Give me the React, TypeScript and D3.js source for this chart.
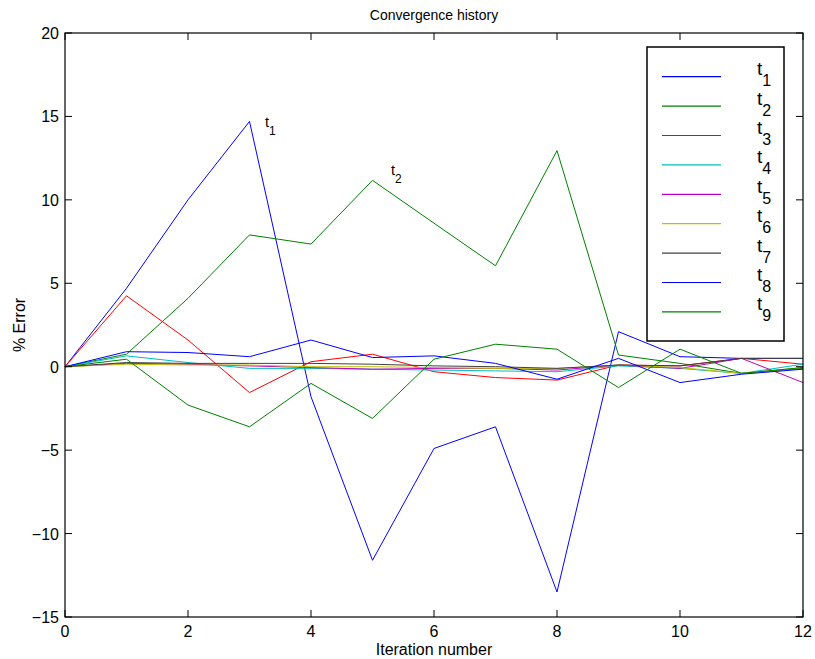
import React from "react";
import * as d3 from "d3";

// Iteration indices and per-parameter error histories (%)
const iterations = [0, 1, 2, 3, 4, 5, 6, 7, 8, 9, 10, 11, 12];
const seriesNames = ["1", "2", "3", "4", "5", "6", "7", "8", "9"];
const t1 = [0, 4.7, 10.0, 14.7, -1.8, -11.6, -4.9, -3.6, -13.5, 2.1, 0.6, 0.5, 0.5];
const t2 = [0, 0.75, 4.1, 7.9, 7.35, 11.17, 8.6, 6.05, 12.95, 0.7, 0.2, -0.4, -0.1];
const t3 = [0, 4.25, 1.6, -1.55, 0.3, 0.75, -0.3, -0.65, -0.8, 0.1, 0.05, 0.5, 0.15];
const t4 = [0, 0.65, 0.25, -0.1, -0.1, -0.15, -0.2, -0.25, -0.3, 0.05, -0.1, -0.4, 0.15];
const t5 = [0, 0.2, 0.15, 0.05, -0.05, -0.15, -0.1, -0.1, -0.2, 0.1, -0.1, 0.5, -0.95];
const t6 = [0, 0.15, 0.1, 0.1, 0.0, 0.0, -0.05, -0.1, -0.1, 0.1, -0.05, -0.4, -0.05];
const t7 = [0, 0.25, 0.2, 0.2, 0.2, 0.15, 0.05, 0.0, -0.1, 0.1, 0.05, 0.5, 0.5];
const t8 = [0, 0.9, 0.85, 0.6, 1.6, 0.55, 0.65, 0.2, -0.75, 0.5, -0.95, -0.45, -0.15];
const t9 = [0, 0.45, -2.3, -3.6, -1.0, -3.1, 0.45, 1.35, 1.05, -1.25, 1.05, -0.4, -0.05];
const seriesValues = [t1, t2, t3, t4, t5, t6, t7, t8, t9];
const seriesColors = ["#0000ff", "#008000", "#ff0000", "#00bfbf", "#bf00bf", "#bfbf00", "#404040", "#0000ff", "#008000"];

const xTicks = [0, 2, 4, 6, 8, 10, 12];
const yTicks = [-15, -10, -5, 0, 5, 10, 15, 20];

const W = 815;
const H = 659;
const plot = { left: 65, right: 803, top: 33, bottom: 617 };
const FONT = "Liberation Sans, Arial, Helvetica, sans-serif";

export default function App() {
  const x = d3.scaleLinear().domain([0, 12]).range([plot.left, plot.right]);
  const y = d3.scaleLinear().domain([-15, 20]).range([plot.bottom, plot.top]);
  const line = d3
    .line<number>()
    .x((_, i) => x(iterations[i]))
    .y((d) => y(d));

  const tickLen = 7;
  const legend = { x: 647, y: 47, w: 137, h: 294, row: 29.4, first: 76.7 };

  return (
    <svg
      width={W}
      height={H}
      style={{ position: "fixed", left: 0, top: 0, background: "#fff" }}
      fontFamily={FONT}
    >
      <rect x={0} y={0} width={W} height={H} fill="#fff" />

      {/* data lines */}
      <g fill="none" strokeWidth={1}>
        {seriesValues.map((vals, k) => (
          <path key={k} d={line(vals) || ""} stroke={seriesColors[k]} />
        ))}
      </g>

      {/* axes box */}
      <rect
        x={plot.left}
        y={plot.top}
        width={plot.right - plot.left}
        height={plot.bottom - plot.top}
        fill="none"
        stroke="#000"
        strokeWidth={1.2}
      />

      {/* tick marks on all four sides, pointing inward */}
      <g stroke="#000" strokeWidth={1}>
        {xTicks.map((t) => (
          <g key={"xt" + t}>
            <line x1={x(t)} x2={x(t)} y1={plot.bottom} y2={plot.bottom - tickLen} />
            <line x1={x(t)} x2={x(t)} y1={plot.top} y2={plot.top + tickLen} />
          </g>
        ))}
        {yTicks.map((t) => (
          <g key={"yt" + t}>
            <line x1={plot.left} x2={plot.left + tickLen} y1={y(t)} y2={y(t)} />
            <line x1={plot.right} x2={plot.right - tickLen} y1={y(t)} y2={y(t)} />
          </g>
        ))}
      </g>

      <g fontSize={16} fill="#000">
        {xTicks.map((t) => (
          <text key={"xl" + t} x={x(t)} y={637} textAnchor="middle">
            {t}
          </text>
        ))}
        {yTicks.map((t) => (
          <text key={"yl" + t} x={59} y={y(t) + 6} textAnchor="end">
            {t < 0 ? "\u2212" + Math.abs(t) : String(t)}
          </text>
        ))}
      </g>

      {/* titles */}
      <text x={434} y={20} textAnchor="middle" fontSize={14}>
        Convergence history
      </text>
      <text x={434} y={655} textAnchor="middle" fontSize={16}>
        Iteration number
      </text>
      <text
        transform={`translate(25, ${(plot.top + plot.bottom) / 2}) rotate(-90)`}
        textAnchor="middle"
        fontSize={16}
      >
        % Error
      </text>

      {/* in-plot labels */}
      <text x={265} y={127} fontSize={14.5}>
        t<tspan fontSize={12} dy={8}>1</tspan>
      </text>
      <text x={391} y={175} fontSize={14.5}>
        t<tspan fontSize={12} dy={8}>2</tspan>
      </text>

      {/* legend */}
      <rect
        x={legend.x}
        y={legend.y}
        width={legend.w}
        height={legend.h}
        fill="#fff"
        stroke="#000"
        strokeWidth={1.5}
      />
      {seriesNames.map((name, k) => {
        const ly = legend.first + k * legend.row;
        return (
          <g key={"lg" + name}>
            <line x1={662} x2={721} y1={ly} y2={ly} stroke={seriesColors[k]} strokeWidth={1.2} />
            <text x={757} y={ly - 1.5} fontSize={19}>
              t<tspan fontSize={16} dy={11}>{name}</tspan>
            </text>
          </g>
        );
      })}
    </svg>
  );
}
